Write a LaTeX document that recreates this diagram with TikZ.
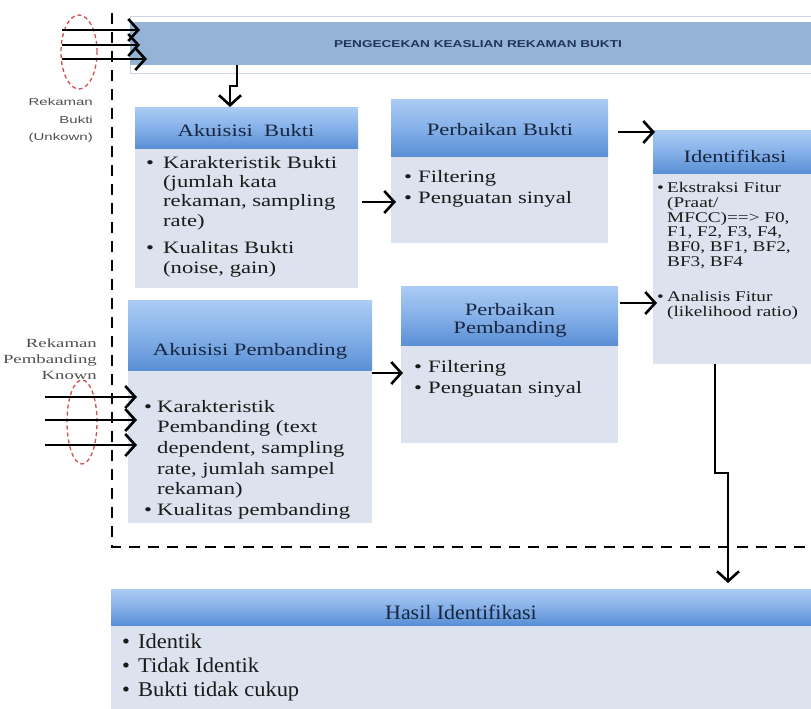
\documentclass[tikz,border=0pt]{standalone}
\usepackage{fontspec}
\setmainfont{Liberation Serif}[FakeStretch=1.3]
\newfontfamily\hasilfont{Liberation Serif}[FakeStretch=1.07]
\newfontfamily\bannerfont{Liberation Sans}[FakeStretch=1.36]
\newfontfamily\lblsans{Liberation Sans}[FakeStretch=1.5]
\newfontfamily\lblserif{Liberation Serif}[FakeStretch=1.5]
\usetikzlibrary{arrows.meta,calc}
\definecolor{hdrtop}{HTML}{ABCCF3}
\definecolor{hdrmid}{HTML}{86B1E9}
\definecolor{hdrbot}{HTML}{5A8FD6}
\definecolor{bodyfill}{HTML}{DCE3EE}
\definecolor{bannerblue}{HTML}{95B3D7}
\definecolor{bannerline}{HTML}{CBD5E3}
\definecolor{titletxt}{HTML}{18263E}
\definecolor{bannertxt}{HTML}{22345A}
\definecolor{bodytxt}{HTML}{1A1A1A}
\definecolor{ellred}{HTML}{D05050}
\definecolor{lblgray}{HTML}{4F4F4F}
\newcommand\mybul[1]{\makebox[#1][l]{\textbullet}}
\newcommand\myind[1]{\hspace*{#1}}
\tikzset{
 hdr/.style={anchor=north west, inner sep=0pt, outer sep=0pt, top color=hdrtop, bottom color=hdrbot, middle color=hdrmid},
 bodybox/.style={anchor=north west, inner sep=0pt, outer sep=0pt, fill=bodyfill},
 ttl/.style={inner sep=0pt, text=titletxt, font=\fontsize{17.4}{18}\selectfont, align=center},
 txt/.style={anchor=north west, inner sep=0pt, text=bodytxt},
 arr/.style={line width=2.6pt, draw=black, -{Straight Barb[length=10pt,width=22pt]}},
 dashframe/.style={line width=2.5pt, dash pattern=on 11pt off 8pt},
 ell/.style={draw=ellred, line width=1.3pt, dash pattern=on 4pt off 3pt},
 lbl/.style={anchor=north east, inner sep=0pt, text=lblgray},
}
\begin{document}
\begin{tikzpicture}[x=1pt,y=-1pt]
\fill[white] (0,0) rectangle (811,709);
\useasboundingbox (0,0) rectangle (811,709);
\clip (0,0) rectangle (811,709);

% banner
\node[anchor=north west, draw=bannerline, line width=1pt, fill=white, inner sep=0pt, minimum width=700pt, minimum height=57pt] (bnf) at (130,16) {};
\node[anchor=north west, fill=bannerblue, inner sep=0pt, minimum width=700pt, minimum height=43pt] (bn) at (130,22) {};
\node[text=bannertxt, font=\bannerfont\bfseries\fontsize{10}{12}\selectfont, inner sep=0pt] (bnt) at (478,44) {PENGECEKAN KEASLIAN REKAMAN BUKTI};

% Akuisisi Bukti
\node[bodybox, minimum width=223pt, minimum height=140pt] (abb) at (135,148) {};
\node[hdr, minimum width=223pt, minimum height=41pt] (abh) at (135,107) {};
\node[ttl] (abt) at (246,131) {Akuisisi~ Bukti};
\node[txt, font=\fontsize{17.4}{19.3}\selectfont] (abx) at (146,154.5) {\begin{tabular}{@{}l@{}}
\mybul{17pt}Karakteristik Bukti\\
\myind{17pt}(jumlah kata\\
\myind{17pt}rekaman, sampling\\
\myind{17pt}rate)\\[8.5pt]
\mybul{17pt}Kualitas Bukti\\
\myind{17pt}(noise, gain)
\end{tabular}};

% Perbaikan Bukti
\node[bodybox, minimum width=217pt, minimum height=87pt] (pbb) at (391,156) {};
\node[hdr, minimum width=217pt, minimum height=57pt] (pbh) at (391,99) {};
\node[ttl] (pbt) at (500,130) {Perbaikan Bukti};
\node[txt, font=\fontsize{17.4}{21.5}\selectfont] (pbx) at (404,167) {\begin{tabular}{@{}l@{}}
\mybul{14pt}Filtering\\
\mybul{14pt}Penguatan sinyal
\end{tabular}};

% Identifikasi
\node[bodybox, minimum width=165pt, minimum height=191pt] (idb) at (653,173) {};
\node[hdr, minimum width=165pt, minimum height=43pt] (idh) at (653,130) {};
\node[ttl] (idt) at (735,156) {Identifikasi};
\node[txt, font=\fontsize{14.8}{14.8}\selectfont] (idx) at (657,182) {\begin{tabular}{@{}l@{}}
\mybul{10pt}Ekstraksi Fitur\\
\myind{10pt}(Praat/\\
\myind{10pt}MFCC)==> F0,\\
\myind{10pt}F1, F2, F3, F4,\\
\myind{10pt}BF0, BF1, BF2,\\
\myind{10pt}BF3, BF4\\[20pt]
\mybul{10pt}Analisis Fitur\\
\myind{10pt}(likelihood ratio)
\end{tabular}};

% Akuisisi Pembanding
\node[bodybox, minimum width=244pt, minimum height=153pt] (apb) at (128,370) {};
\node[hdr, minimum width=244pt, minimum height=70pt] (aph) at (128,300) {};
\node[ttl] (apt) at (250,351) {Akuisisi Pembanding};
\node[txt, font=\fontsize{17.4}{20.6}\selectfont] (apx) at (144,397.6) {\begin{tabular}{@{}l@{}}
\mybul{13pt}Karakteristik\\
\myind{13pt}Pembanding (text\\
\myind{13pt}dependent, sampling\\
\myind{13pt}rate, jumlah sampel\\
\myind{13pt}rekaman)\\
\mybul{13pt}Kualitas pembanding
\end{tabular}};

% Perbaikan Pembanding
\node[bodybox, minimum width=217pt, minimum height=98pt] (ppb) at (401,345) {};
\node[hdr, minimum width=217pt, minimum height=59pt] (pph) at (401,286) {};
\node[ttl] (ppt) at (510,320) {Perbaikan\\Pembanding};
\node[txt, font=\fontsize{17.4}{21}\selectfont] (ppx) at (414,357.3) {\begin{tabular}{@{}l@{}}
\mybul{14pt}Filtering\\
\mybul{14pt}Penguatan sinyal
\end{tabular}};

% Hasil Identifikasi
\node[bodybox, minimum width=700pt, minimum height=95pt] (hsb) at (111,625) {};
\node[hdr, minimum width=700pt, minimum height=36pt] (hsh) at (111,589) {};
\node[ttl, font=\hasilfont\fontsize{20.5}{21}\selectfont] (hst) at (461,612) {Hasil Identifikasi};
\node[txt, font=\hasilfont\fontsize{21}{24.2}\selectfont] (hsx) at (122,631) {\begin{tabular}{@{}l@{}}
\mybul{16pt}Identik\\
\mybul{16pt}Tidak Identik\\
\mybul{16pt}Bukti tidak cukup
\end{tabular}};

% side labels
\node[lbl, font=\lblsans\fontsize{10}{17.3}\selectfont] (lb1) at (93,93.5) {\begin{tabular}{@{}r@{}}Rekaman\\Bukti\\(Unkown)\end{tabular}};
\node[lbl, font=\lblserif\fontsize{12.5}{16}\selectfont] (lb2) at (97,336) {\begin{tabular}{@{}r@{}}Rekaman\\Pembanding\\Known\end{tabular}};

% dashed frame
\draw[dashframe] (112,13) -- (112,547) -- (830,547);

% ellipses
\draw[ell] (79,52) ellipse [x radius=18pt, y radius=37pt];
\draw[ell] (82,422) ellipse [x radius=15pt, y radius=42pt];

% input arrows
\coordinate (u1) at (62,30);
\coordinate (u2) at (62,45);
\coordinate (u3) at (62,59);
\draw[arr] (u1) -- ($(bn.west |- u1)+(10,0)$);
\draw[arr] (u2) -- ($(bn.west |- u2)+(10,0)$);
\draw[arr] (u3) -- ($(bn.west |- u3)+(17,0)$);
\coordinate (v1) at (45,397);
\coordinate (v2) at (45,420);
\coordinate (v3) at (45,445);
\draw[arr] (v1) -- ($(apb.west |- v1)+(9,0)$);
\draw[arr] (v2) -- ($(apb.west |- v2)+(9,0)$);
\draw[arr] (v3) -- ($(apb.west |- v3)+(9,0)$);

% banner -> Akuisisi Bukti
\coordinate (j1) at (237,86);
\coordinate (j2) at (230,86);
\draw[arr] (bn.south -| j1) -- (j1) -- (j2) -- (abh.north -| j2);

% horizontal connectors
\coordinate (r1) at (0,202);
\draw[arr] ($(abb.east |- r1)+(4,0)$) -- ($(pbb.west |- r1)+(5,0)$);
\coordinate (r2) at (0,373);
\draw[arr] (apb.east |- r2) -- ($(ppb.west |- r2)+(2,0)$);
\coordinate (r3) at (0,132);
\draw[arr] ($(pbh.east |- r3)+(10,0)$) -- ($(idh.west |- r3)+(2,0)$);
\coordinate (r4) at (0,303);
\draw[arr] ($(pph.east |- r4)+(2,0)$) -- ($(idb.west |- r4)+(4,0)$);

% Identifikasi -> Hasil
\coordinate (k1) at (715,473);
\coordinate (k2) at (728,473);
\draw[arr] (idb.south -| k1) -- (k1) -- (k2) -- ($(hsh.north -| k2)+(0,-6)$);
\end{tikzpicture}
\end{document}
